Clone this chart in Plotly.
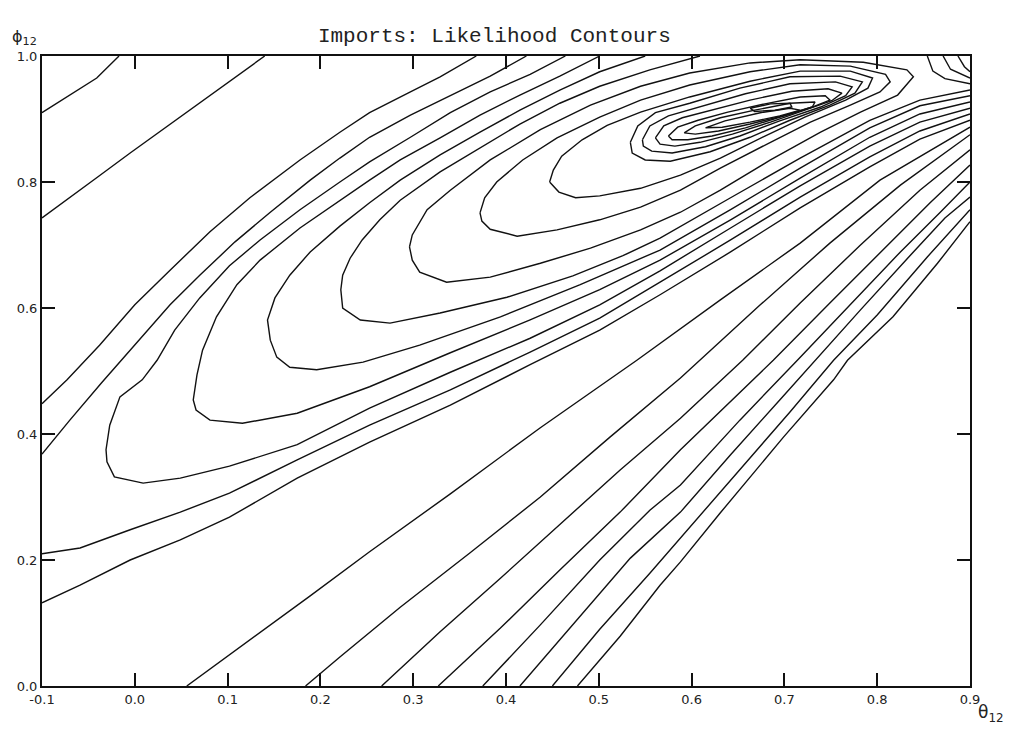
import plotly.graph_objects as go

# ---- tick labels ----
x_ticks = [-0.1, 0.0, 0.1, 0.2, 0.3, 0.4, 0.5, 0.6, 0.7, 0.8, 0.9]
x_labels = ["-0.1", "0.0", "0.1", "0.2", "0.3", "0.4", "0.5", "0.6", "0.7", "0.8", "0.9"]
y_ticks = [0.0, 0.2, 0.4, 0.6, 0.8, 1.0]
y_labels = ["0.0", "0.2", "0.4", "0.6", "0.8", "1.0"]

# ---- contour lines: (theta12, phi12) ----
A = [(-0.100, 0.910), (-0.067, 0.941), (-0.041, 0.965), (-0.017, 1.0)]
B = [(-0.100, 0.743), (-0.070, 0.776), (-0.040, 0.808), (-0.005, 0.846), (0.030, 0.883),
     (0.067, 0.922), (0.102, 0.960), (0.140, 1.0)]
P = [(-0.100, 0.448), (-0.073, 0.486), (-0.038, 0.541), (0.000, 0.605), (0.038, 0.660),
     (0.081, 0.721), (0.124, 0.775), (0.178, 0.835), (0.221, 0.879), (0.253, 0.910),
     (0.297, 0.943), (0.329, 0.967), (0.368, 1.0)]
Q = [(-0.100, 0.368), (-0.070, 0.422), (-0.036, 0.481), (0.000, 0.541), (0.038, 0.605),
     (0.070, 0.652), (0.108, 0.705), (0.146, 0.752), (0.189, 0.803), (0.221, 0.838),
     (0.253, 0.871), (0.297, 0.906), (0.340, 0.937), (0.383, 0.968), (0.422, 1.0)]
R = [(0.464, 1.0), (0.426, 0.971), (0.383, 0.943), (0.340, 0.910), (0.297, 0.871),
     (0.253, 0.832), (0.221, 0.800), (0.178, 0.756), (0.135, 0.708), (0.102, 0.667),
     (0.070, 0.616), (0.043, 0.565), (0.024, 0.517), (0.008, 0.486), (-0.016, 0.459),
     (-0.027, 0.414), (-0.031, 0.375), (-0.030, 0.356), (-0.022, 0.332), (0.009, 0.322),
     (0.049, 0.330), (0.102, 0.349), (0.175, 0.383), (0.253, 0.441), (0.340, 0.498),
     (0.426, 0.552), (0.501, 0.605), (0.566, 0.659), (0.642, 0.727), (0.717, 0.794),
     (0.792, 0.857), (0.846, 0.895), (0.900, 0.917)]
S = [(0.501, 1.0), (0.458, 0.968), (0.415, 0.938), (0.372, 0.906), (0.329, 0.870),
     (0.286, 0.835), (0.253, 0.803), (0.221, 0.771), (0.178, 0.727), (0.135, 0.676),
     (0.110, 0.637), (0.088, 0.586), (0.073, 0.533), (0.067, 0.494), (0.063, 0.454),
     (0.066, 0.438), (0.081, 0.422), (0.116, 0.417), (0.175, 0.433), (0.253, 0.475),
     (0.340, 0.529), (0.426, 0.581), (0.501, 0.629), (0.566, 0.676), (0.642, 0.740),
     (0.717, 0.806), (0.792, 0.871), (0.846, 0.908), (0.900, 0.927)]
T = [(0.550, 1.0), (0.501, 0.975), (0.458, 0.946), (0.415, 0.914), (0.372, 0.879),
     (0.329, 0.843), (0.286, 0.803), (0.253, 0.767), (0.221, 0.730), (0.189, 0.689),
     (0.167, 0.652), (0.151, 0.616), (0.143, 0.581), (0.146, 0.549), (0.153, 0.522),
     (0.167, 0.506), (0.196, 0.502), (0.246, 0.514), (0.307, 0.541), (0.394, 0.586),
     (0.480, 0.637), (0.566, 0.692), (0.642, 0.756), (0.717, 0.822), (0.792, 0.886),
     (0.846, 0.921), (0.900, 0.937)]
G = [(0.609, 1.0), (0.555, 0.978), (0.501, 0.952), (0.458, 0.925), (0.415, 0.892),
     (0.372, 0.854), (0.329, 0.816), (0.286, 0.771), (0.264, 0.740), (0.245, 0.708),
     (0.232, 0.679), (0.224, 0.652), (0.222, 0.629), (0.224, 0.600), (0.243, 0.581),
     (0.275, 0.576), (0.329, 0.592), (0.401, 0.617), (0.472, 0.651), (0.526, 0.683),
     (0.566, 0.711), (0.642, 0.775), (0.717, 0.838), (0.792, 0.898), (0.846, 0.930),
     (0.900, 0.946)]
L6 = [(0.296, 0.697), (0.299, 0.716), (0.315, 0.756), (0.340, 0.787), (0.383, 0.835),
      (0.437, 0.883), (0.491, 0.922), (0.545, 0.952), (0.598, 0.973), (0.663, 0.989),
      (0.717, 0.994), (0.785, 0.990), (0.832, 0.978), (0.839, 0.967), (0.822, 0.938),
      (0.782, 0.911), (0.739, 0.879), (0.685, 0.835), (0.631, 0.787), (0.588, 0.752),
      (0.545, 0.724), (0.491, 0.695), (0.437, 0.671), (0.383, 0.649), (0.336, 0.641),
      (0.307, 0.657), (0.299, 0.676), (0.296, 0.697)]
L7 = [(0.372, 0.751), (0.377, 0.775), (0.390, 0.800), (0.418, 0.835), (0.455, 0.870),
      (0.501, 0.903), (0.545, 0.930), (0.598, 0.954), (0.663, 0.975), (0.717, 0.986),
      (0.771, 0.984), (0.809, 0.971), (0.814, 0.959), (0.803, 0.943), (0.771, 0.922),
      (0.728, 0.895), (0.685, 0.863), (0.631, 0.822), (0.588, 0.787), (0.545, 0.760),
      (0.501, 0.740), (0.455, 0.724), (0.412, 0.714), (0.383, 0.725), (0.374, 0.738),
      (0.372, 0.751)]
L8 = [(0.447, 0.800), (0.451, 0.819), (0.460, 0.841), (0.482, 0.867), (0.509, 0.890),
      (0.545, 0.911), (0.598, 0.935), (0.663, 0.960), (0.717, 0.976), (0.771, 0.976),
      (0.795, 0.965), (0.790, 0.949), (0.766, 0.930), (0.722, 0.903), (0.679, 0.873),
      (0.631, 0.838), (0.588, 0.811), (0.545, 0.790), (0.501, 0.778), (0.475, 0.775),
      (0.457, 0.784), (0.447, 0.800)]
L9 = [(0.534, 0.863), (0.542, 0.889), (0.561, 0.910), (0.598, 0.925), (0.652, 0.949),
      (0.706, 0.967), (0.760, 0.968), (0.784, 0.959), (0.776, 0.941), (0.749, 0.922),
      (0.706, 0.898), (0.663, 0.871), (0.620, 0.848), (0.577, 0.833), (0.550, 0.835),
      (0.536, 0.846), (0.534, 0.863)]
L10 = [(0.547, 0.867), (0.555, 0.889), (0.575, 0.905), (0.609, 0.919), (0.658, 0.940),
       (0.706, 0.956), (0.755, 0.959), (0.773, 0.951), (0.766, 0.937), (0.739, 0.919),
       (0.695, 0.897), (0.652, 0.873), (0.615, 0.856), (0.579, 0.846), (0.557, 0.849),
       (0.548, 0.857), (0.547, 0.867)]
L11 = [(0.561, 0.870), (0.570, 0.889), (0.590, 0.902), (0.622, 0.914), (0.663, 0.930),
       (0.708, 0.944), (0.747, 0.948), (0.762, 0.941), (0.751, 0.929), (0.722, 0.914),
       (0.685, 0.895), (0.644, 0.876), (0.609, 0.863), (0.582, 0.857), (0.566, 0.860),
       (0.561, 0.870)]
L12 = [(0.575, 0.873), (0.585, 0.887), (0.607, 0.898), (0.639, 0.911), (0.679, 0.924),
       (0.717, 0.935), (0.744, 0.937), (0.749, 0.930), (0.730, 0.919), (0.695, 0.903),
       (0.658, 0.886), (0.622, 0.873), (0.596, 0.867), (0.579, 0.867), (0.575, 0.873)]
L13 = [(0.592, 0.878), (0.604, 0.889), (0.631, 0.902), (0.668, 0.914), (0.706, 0.925),
       (0.733, 0.927), (0.730, 0.919), (0.701, 0.906), (0.663, 0.892), (0.629, 0.881),
       (0.604, 0.876), (0.592, 0.878)]
L14 = [(0.615, 0.886), (0.636, 0.897), (0.674, 0.910), (0.706, 0.917), (0.717, 0.914),
       (0.695, 0.905), (0.663, 0.895), (0.633, 0.887), (0.615, 0.886)]
L15 = [(0.663, 0.917), (0.685, 0.924), (0.706, 0.925), (0.708, 0.919), (0.690, 0.914),
       (0.668, 0.912), (0.663, 0.917)]
G_corner = [(0.854, 1.0), (0.860, 0.976), (0.873, 0.964), (0.900, 0.956)]
T_corner = [(0.871, 1.0), (0.879, 0.979), (0.900, 0.965)]
S_corner = [(0.887, 1.0), (0.894, 0.983), (0.900, 0.975)]
U = [(-0.100, 0.210), (-0.059, 0.219), (-0.005, 0.248), (0.049, 0.276), (0.102, 0.306),
     (0.175, 0.359), (0.253, 0.414), (0.340, 0.470), (0.426, 0.530), (0.501, 0.584),
     (0.566, 0.641), (0.642, 0.708), (0.717, 0.776), (0.792, 0.840), (0.846, 0.881),
     (0.900, 0.908)]
V = [(-0.100, 0.132), (-0.059, 0.160), (-0.005, 0.200), (0.049, 0.232), (0.102, 0.268),
     (0.175, 0.330), (0.253, 0.387), (0.340, 0.446), (0.426, 0.510), (0.501, 0.565),
     (0.566, 0.621), (0.642, 0.689), (0.717, 0.759), (0.792, 0.824), (0.846, 0.868),
     (0.900, 0.898)]
S0555 = [(0.056, 0.0), (0.124, 0.073), (0.189, 0.143), (0.253, 0.213), (0.340, 0.305),
         (0.437, 0.410), (0.541, 0.517), (0.631, 0.613), (0.717, 0.703), (0.803, 0.803),
         (0.900, 0.887)]
S184 = [(0.184, 0.0), (0.221, 0.046), (0.286, 0.125), (0.361, 0.211), (0.437, 0.300),
        (0.512, 0.395), (0.588, 0.489), (0.609, 0.517), (0.674, 0.605), (0.749, 0.703),
        (0.825, 0.795), (0.900, 0.875)]
S266 = [(0.266, 0.0), (0.329, 0.086), (0.394, 0.171), (0.458, 0.256), (0.523, 0.343),
        (0.588, 0.425), (0.655, 0.517), (0.717, 0.608), (0.782, 0.700), (0.846, 0.787),
        (0.900, 0.851)]
S326 = [(0.327, 0.0), (0.394, 0.092), (0.458, 0.184), (0.523, 0.276), (0.588, 0.375),
        (0.642, 0.451), (0.688, 0.517), (0.749, 0.608), (0.803, 0.687), (0.857, 0.767),
        (0.900, 0.827)]
S375 = [(0.375, 0.0), (0.437, 0.097), (0.501, 0.200), (0.555, 0.279), (0.588, 0.319),
        (0.652, 0.422), (0.714, 0.517), (0.771, 0.605), (0.825, 0.689), (0.868, 0.752),
        (0.900, 0.800)]
S415 = [(0.415, 0.0), (0.480, 0.111), (0.534, 0.203), (0.588, 0.276), (0.642, 0.367),
        (0.695, 0.454), (0.733, 0.517), (0.782, 0.597), (0.836, 0.684), (0.873, 0.743),
        (0.900, 0.776)]
S449 = [(0.450, 0.0), (0.501, 0.090), (0.555, 0.179), (0.588, 0.235), (0.652, 0.343),
        (0.706, 0.435), (0.753, 0.517), (0.800, 0.589), (0.854, 0.681), (0.900, 0.756)]
S476 = [(0.477, 0.0), (0.523, 0.079), (0.566, 0.160), (0.588, 0.197), (0.631, 0.275),
        (0.699, 0.395), (0.753, 0.486), (0.768, 0.517), (0.817, 0.586), (0.865, 0.671),
        (0.900, 0.737)]

contours = [A, B, P, Q, R, S, T, G, L6, L7, L8, L9, L10, L11, L12, L13, L14, L15,
            G_corner, T_corner, S_corner, U, V,
            S0555, S184, S266, S326, S375, S415, S449, S476]

fig = go.Figure()
for c in contours:
    fig.add_trace(go.Scatter(
        x=[p[0] for p in c], y=[p[1] for p in c], mode="lines",
        line=dict(color="#111111", width=1.4), hoverinfo="skip", showlegend=False))

axis_common = dict(
    showline=True, linewidth=2, linecolor="#111111", mirror="ticks",
    ticks="inside", ticklen=13, tickwidth=1.5, tickcolor="#111111",
    showgrid=False, zeroline=False,
    tickfont=dict(family="DejaVu Sans", size=13, color="#222222"),
)
fig.update_xaxes(range=[-0.1, 0.9], tickvals=x_ticks, ticktext=x_labels, **axis_common)
fig.update_yaxes(range=[0.0, 1.0], tickvals=y_ticks, ticktext=y_labels, **axis_common)

fig.update_layout(
    width=1015, height=731,
    margin=dict(l=42, r=45, t=56, b=45),
    paper_bgcolor="white", plot_bgcolor="white",
    title=dict(text="Imports: Likelihood Contours", x=0.487, xanchor="center",
               y=0.952, yanchor="middle", yref="container",
               font=dict(family="Liberation Mono", size=21, color="#222222")),
    annotations=[
        dict(text="ϕ<sub>12</sub>", xref="paper", yref="paper", x=-0.034, y=1.03,
             xanchor="left", yanchor="middle", showarrow=False,
             font=dict(family="DejaVu Sans", size=16, color="#222222")),
        dict(text="θ<sub>12</sub>", xref="paper", yref="paper", x=1.006, y=-0.044,
             xanchor="left", yanchor="middle", showarrow=False,
             font=dict(family="DejaVu Sans", size=17, color="#222222")),
    ],
)

fig.write_html("out.html")
